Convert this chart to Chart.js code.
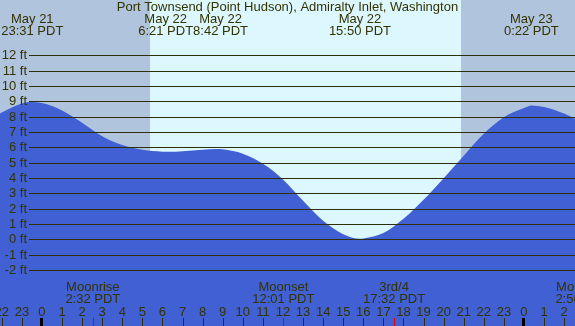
<!DOCTYPE html>
<html>
<head>
<meta charset="utf-8">
<script src="https://cdn.jsdelivr.net/npm/chart.js@4/dist/chart.umd.min.js"></script>
<style>
html,body{margin:0;padding:0;background:#fff;}
canvas{display:block;}
</style>
</head>
<body>
<canvas id="c" width="575" height="326"></canvas>
<script>
// ---- Data (hours relative to May 22 00:00 PDT) ----
const tideHours = [-2.09,-2,-1,-0.48,0,1,2,3,4,5,6,6.35,7,8,8.7,9,10,11,12,13,14,15,15.83,16,17,18,19,20,21,22,23,24,24.37,25,26,26.54];
const tideFeet  = [8.22,8.27,8.85,8.94,8.88,8.40,7.60,6.72,6.14,5.83,5.71,5.70,5.74,5.84,5.88,5.86,5.57,4.92,3.90,2.50,1.20,0.33,0.03,0.05,0.40,1.33,2.57,3.98,5.44,6.87,7.95,8.55,8.72,8.62,8.19,7.85];

const yTickValues = [-2,-1,0,1,2,3,4,5,6,7,8,9,10,11,12];
const hourTickValues = [-2,-1,0,1,2,3,4,5,6,7,8,9,10,11,12,13,14,15,16,17,18,19,20,21,22,23,24,25,26];

const tideEventHours = [-0.483, 6.35, 8.7, 15.833, 24.367];
const tideEventDates = ['May 21','May 22','May 22','May 22','May 23'];
const tideEventTimes = ['23:31 PDT','6:21 PDT','8:42 PDT','15:50 PDT','0:22 PDT'];

const moonEventHours = [2.533, 12.017, 17.533, 26.93];
const moonEventNames = ['Moonrise','Moonset','3rd/4','Moonrise'];
const moonEventTimes = ['2:32 PDT','12:01 PDT','17:32 PDT','2:56 PDT'];

// night intervals: [start, end]
const nightStarts = [-3.13, 20.87];
const nightEnds   = [5.38, 29.35];

const titleText = 'Port Townsend (Point Hudson), Admiralty Inlet, Washington';

const TEXT = '#333300';
const FONT = '13px "Liberation Sans", Arial, sans-serif';

const decor = {
  id: 'decor',
  beforeDatasetsDraw(chart) {
    const {ctx, chartArea: a, scales: {x}} = chart;
    ctx.save();
    ctx.fillStyle = '#DDF7FF';
    ctx.fillRect(a.left, a.top, a.right - a.left, a.bottom - a.top);
    ctx.fillStyle = '#B0C4DE';
    for (let i = 0; i < nightStarts.length; i++) {
      const x0 = Math.max(a.left, x.getPixelForValue(nightStarts[i]));
      const x1 = Math.min(a.right, x.getPixelForValue(nightEnds[i]));
      if (x1 > x0) ctx.fillRect(Math.round(x0), a.top, Math.round(x1) - Math.round(x0), a.bottom - a.top);
    }
    ctx.restore();
  },
  afterDatasetsDraw(chart) {
    const {ctx, chartArea: a, scales: {x, y}} = chart;
    ctx.save();
    ctx.font = FONT;
    ctx.textBaseline = 'middle';
    // y grid + labels
    ctx.strokeStyle = '#2E2E0A';
    ctx.lineWidth = 1;
    yTickValues.forEach(v => {
      const py = Math.round(y.getPixelForValue(v)) + 0.5;
      ctx.beginPath();
      ctx.moveTo(29, py);
      ctx.lineTo(a.right, py);
      ctx.stroke();
      ctx.fillStyle = TEXT;
      ctx.textAlign = 'right';
      ctx.fillText(v + ' ft', 27, py);
    });
    // hour ticks + labels
    ctx.textAlign = 'center';
    hourTickValues.forEach(h => {
      const px = x.getPixelForValue(h);
      const hod = ((h % 24) + 24) % 24;
      ctx.fillStyle = TEXT;
      ctx.fillText(String(hod), px, 312);
      if (hod === 0) {
        ctx.fillStyle = '#000';
        ctx.fillRect(Math.round(px) - 2, 318, 3, 8);
      } else {
        ctx.fillStyle = '#2E2E0A';
        ctx.fillRect(Math.round(px), 318, 1, 8);
      }
    });
    // moon events
    moonEventHours.forEach((h, i) => {
      const px = x.getPixelForValue(h);
      ctx.fillStyle = '#E00000';
      ctx.fillRect(Math.round(px), 318, 1, 8);
      ctx.fillStyle = TEXT;
      ctx.fillText(moonEventNames[i], px, 287.5);
      ctx.fillText(moonEventTimes[i], px, 299.5);
    });
    // tide event labels with overlap avoidance
    const centers = tideEventHours.map(h => x.getPixelForValue(h));
    const widths = tideEventTimes.map((t, i) => Math.max(ctx.measureText(t).width, ctx.measureText(tideEventDates[i]).width));
    for (let i = 0; i < centers.length - 1; i++) {
      const overlap = (centers[i] + widths[i] / 2) - (centers[i + 1] - widths[i + 1] / 2);
      if (overlap > 0) {
        centers[i] -= overlap / 2;
        centers[i + 1] += overlap / 2;
      }
    }
    ctx.fillStyle = TEXT;
    centers.forEach((cx, i) => {
      ctx.fillText(tideEventDates[i], cx, 19.5);
      ctx.fillText(tideEventTimes[i], cx, 31.5);
    });
    // title
    ctx.fillText(titleText, (a.left + a.right) / 2, 7.5);
    ctx.restore();
  }
};

new Chart(document.getElementById('c'), {
  type: 'line',
  data: {
    datasets: [{
      data: tideHours.map((h, i) => ({x: h, y: tideFeet[i]})),
      borderWidth: 0,
      borderColor: 'rgba(0,0,0,0)',
      backgroundColor: '#4160D3',
      fill: 'start',
      pointRadius: 0,
      cubicInterpolationMode: 'monotone'
    }]
  },
  options: {
    responsive: false,
    animation: false,
    devicePixelRatio: 1,
    layout: {padding: 0},
    plugins: {legend: {display: false}, tooltip: {enabled: false}, title: {display: false}},
    scales: {
      x: {type: 'linear', min: -2.09, max: 26.54, display: false},
      y: {type: 'linear', min: -5.66, max: 15.6, display: false}
    }
  },
  plugins: [decor]
});
</script>
</body>
</html>
